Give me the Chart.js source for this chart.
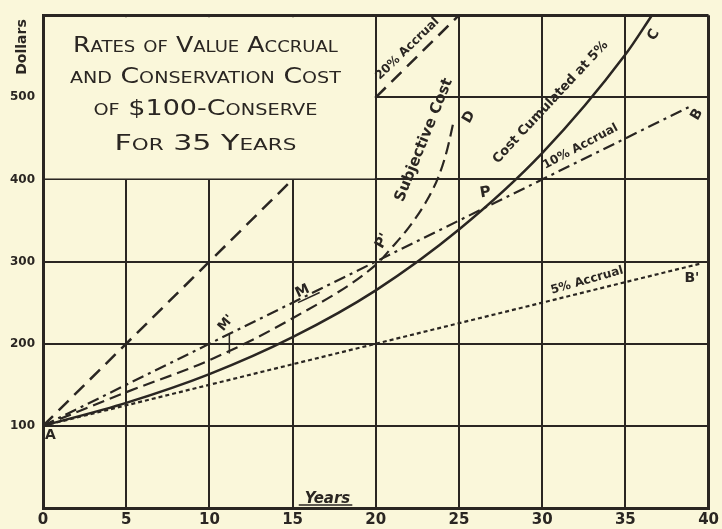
<!DOCTYPE html>
<html>
<head>
<meta charset="utf-8">
<script src="https://cdn.jsdelivr.net/npm/chart.js@4/dist/chart.umd.min.js"></script>
<style>
  html, body { margin: 0; padding: 0; background: #faf7da; }
  #wrap { width: 722px; height: 529px; position: relative; }
</style>
</head>
<body>
<div id="wrap"><canvas id="c" width="722" height="529"></canvas></div>
<script>
// ---- data ----
const xTicks = [0, 5, 10, 15, 20, 25, 30, 35, 40];
const yTicks = [100, 200, 300, 400, 500];

// 20% accrual (simple), two visible segments (hidden behind title box in between)
const accrual20Years = [0, 15, 20, 25];
const accrual20Value = [100, 400, 500, 600];

// 10% accrual
const accrual10Years = [0, 38.8];
const accrual10Value = [100, 488];

// 5% accrual
const accrual5Years = [0, 39.6];
const accrual5Value = [100, 298];

// cost cumulated at 5%
const cumulYears = [0, 5, 10, 15, 20, 25, 30, 35, 36.6];
const cumulValue = [100, 128, 163, 208, 265, 339, 432, 552, 600];

// subjective cost
const subjYears = [0, 5, 10, 15, 20, 21, 22, 23, 23.8, 24.3, 24.7];
const subjValue = [100, 141, 180, 231, 296, 318, 342, 372, 405, 437, 473];

const titleLines = ['Rates of Value Accrual', 'and Conservation Cost', 'of $100-Conserve', 'For 35 Years'];

// ---- styling ----
const BG = '#faf7da';
const INK = '#2a2622';

function pts(xs, ys) { return xs.map((x, i) => ({ x: x, y: ys[i] })); }

// text annotations in data coordinates
const notes = [
  { t: '20% Accrual', x: 21.9, y: 559, rot: -44, size: 12 },
  { t: 'Subjective Cost', x: 22.9, y: 448, rot: -68, size: 15 },
  { t: 'Cost Cumulated at 5%', x: 30.5, y: 494, rot: -47, size: 13 },
  { t: '10% Accrual', x: 32.3, y: 440, rot: -28, size: 12 },
  { t: '5% Accrual', x: 32.7, y: 277, rot: -16, size: 12 },
  { t: 'A', x: 0.45, y: 88, rot: 0, size: 14 },
  { t: "P'", x: 20.4, y: 325, rot: -60, size: 14 },
  { t: 'P', x: 26.6, y: 384, rot: -10, size: 15 },
  { t: 'M', x: 15.6, y: 264, rot: -25, size: 14, underline: true },
  { t: "M'", x: 11.0, y: 225, rot: -50, size: 13 },
  { t: 'C', x: 36.7, y: 576, rot: -60, size: 14 },
  { t: 'D', x: 25.6, y: 476, rot: -60, size: 14 },
  { t: 'B', x: 39.3, y: 479, rot: -60, size: 14 },
  { t: "B'", x: 39.0, y: 280, rot: 0, size: 14 },
];

const decor = {
  id: 'decor',
  beforeDraw(chart) {
    const ctx = chart.ctx;
    ctx.save();
    ctx.fillStyle = BG;
    ctx.fillRect(0, 0, chart.width, chart.height);
    ctx.restore();
  },
  afterDatasetsDraw(chart) {
    const ctx = chart.ctx;
    const xs = chart.scales.x, ys = chart.scales.y;
    const a = chart.chartArea;
    ctx.save();
    // title box mask (region 0..20 years, 400..600 dollars)
    const bx0 = a.left + 2, bx1 = xs.getPixelForValue(20) - 1;
    const by0 = a.top + 2, by1 = ys.getPixelForValue(400) - 1;
    ctx.fillStyle = BG;
    ctx.fillRect(bx0, by0, bx1 - bx0, by1 - by0);

    // title
    ctx.fillStyle = INK;
    ctx.textAlign = 'center';
    ctx.textBaseline = 'alphabetic';
    const cx = (a.left + xs.getPixelForValue(20)) / 2 - 4;
    const baseY = [52, 83, 115, 150];
    const targetW = [265, 271, 224, 182];
    titleLines.forEach((line, i) => {
      ctx.font = 'small-caps 21px "DejaVu Sans"';
      const w = ctx.measureText(line).width;
      ctx.save();
      ctx.translate(cx, baseY[i]);
      ctx.scale(targetW[i] / w, 1);
      ctx.fillText(line, 0, 0);
      ctx.restore();
    });

    // notes
    notes.forEach(n => {
      const px = xs.getPixelForValue(n.x), py = ys.getPixelForValue(n.y);
      ctx.save();
      ctx.translate(px, py);
      ctx.rotate(n.rot * Math.PI / 180);
      ctx.font = 'bold ' + n.size + 'px "DejaVu Sans"';
      ctx.textAlign = 'center';
      ctx.textBaseline = 'middle';
      ctx.fillStyle = INK;
      ctx.fillText(n.t, 0, 0);
      if (n.underline) {
        const w = ctx.measureText(n.t).width;
        ctx.lineWidth = 1.5;
        ctx.strokeStyle = INK;
        ctx.beginPath();
        ctx.moveTo(-w / 2 - 2, n.size * 0.6);
        ctx.lineTo(w / 2 + 8, n.size * 0.6);
        ctx.stroke();
      }
      ctx.restore();
    });

    // M' pointer tick
    ctx.strokeStyle = INK;
    ctx.lineWidth = 1.5;
    ctx.beginPath();
    ctx.moveTo(xs.getPixelForValue(11.2), ys.getPixelForValue(212));
    ctx.lineTo(xs.getPixelForValue(11.2), ys.getPixelForValue(188));
    ctx.stroke();

    // "Years" label inside plot
    ctx.font = 'bold italic 15px "DejaVu Sans"';
    ctx.textAlign = 'center';
    ctx.textBaseline = 'alphabetic';
    const yx = xs.getPixelForValue(17.1), yy = a.bottom - 5;
    ctx.fillText('Years', yx, yy);
    const yw = ctx.measureText('Years').width;
    ctx.lineWidth = 1.5;
    ctx.beginPath();
    ctx.moveTo(yx - yw / 2 - 6, yy + 2);
    ctx.lineTo(yx + yw / 2 + 2, yy + 2);
    ctx.stroke();

    // "Dollars" rotated
    ctx.save();
    ctx.translate(22, 47);
    ctx.rotate(-Math.PI / 2);
    ctx.font = 'bold 14px "DejaVu Sans"';
    ctx.textAlign = 'center';
    ctx.textBaseline = 'middle';
    ctx.fillText('Dollars', 0, 0);
    ctx.restore();

    ctx.restore();
  }
};

const lineBase = { borderColor: INK, pointRadius: 0, fill: false, borderCapStyle: 'butt' };

new Chart(document.getElementById('c'), {
  type: 'line',
  data: {
    datasets: [
      Object.assign({}, lineBase, { label: '20% Accrual', data: pts(accrual20Years, accrual20Value), segment: { borderColor: ctx => ctx.p0DataIndex === 1 ? 'rgba(0,0,0,0)' : INK }, borderWidth: 2.5, borderDash: [14, 8] }),
      Object.assign({}, lineBase, { label: '10% Accrual', data: pts(accrual10Years, accrual10Value), borderWidth: 2.2, borderDash: [12, 5, 3, 5] }),
      Object.assign({}, lineBase, { label: '5% Accrual', data: pts(accrual5Years, accrual5Value), borderWidth: 2.2, borderDash: [4, 3] }),
      Object.assign({}, lineBase, { label: 'Cost Cumulated at 5%', data: pts(cumulYears, cumulValue), borderWidth: 2.5, cubicInterpolationMode: 'monotone' }),
      Object.assign({}, lineBase, { label: 'Subjective Cost', data: pts(subjYears, subjValue), borderWidth: 2.2, borderDash: [12, 6], cubicInterpolationMode: 'monotone' }),
    ]
  },
  options: {
    responsive: false,
    animation: false,
    layout: { padding: { left: 0, right: 13, top: 12, bottom: 0 } },
    plugins: { legend: { display: false }, tooltip: { enabled: false }, title: { display: false } },
    scales: {
      x: {
        type: 'linear', min: 0, max: 40,
        afterFit: s => { s.height = 21; },
        afterBuildTicks: s => { s.ticks = xTicks.map(v => ({ value: v })); },
        grid: { color: INK, lineWidth: c => (c.tick && (c.tick.value === 0 || c.tick.value === 40)) ? 3 : 2, drawTicks: false },
        border: { color: INK, width: 3 },
        ticks: { color: INK, font: { family: 'DejaVu Sans', weight: 'bold', size: 15 }, padding: 3, maxRotation: 0, autoSkip: false }
      },
      y: {
        type: 'linear', min: 0, max: 600,
        afterFit: s => { s.width = 43; },
        afterBuildTicks: s => { s.ticks = [0].concat(yTicks, [600]).map(v => ({ value: v })); },
        grid: { color: INK, lineWidth: c => (c.tick && (c.tick.value === 0 || c.tick.value === 600)) ? 3 : 2, drawTicks: false },
        border: { color: INK, width: 3 },
        ticks: { color: INK, font: { family: 'DejaVu Sans', weight: 'bold', size: 12 }, padding: 8, autoSkip: false,
          callback: v => yTicks.includes(v) ? String(v) : '' }
      }
    }
  },
  plugins: [decor]
});
</script>
</body>
</html>
